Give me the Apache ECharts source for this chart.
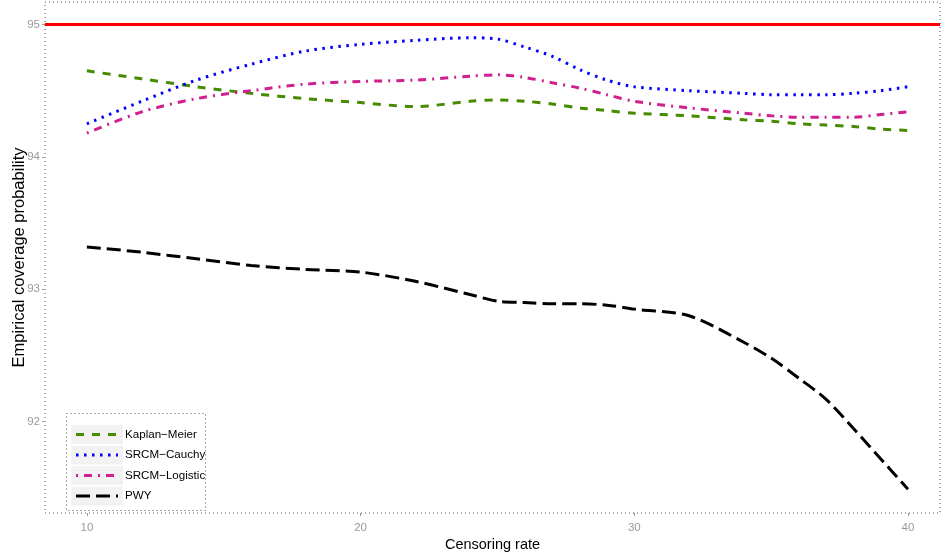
<!DOCTYPE html>
<html>
<head>
<meta charset="utf-8">
<script src="https://cdn.jsdelivr.net/npm/echarts@6/dist/echarts.min.js"></script>
<style>
  html, body { margin: 0; padding: 0; background: #fff; }
  #chart { width: 942px; height: 558px; }
</style>
</head>
<body>
<div id="chart"></div>
<script>
// censoring rate (%)
const rates = [10, 12, 14, 16, 18, 20, 22, 24, 25, 26, 27, 28, 29, 30, 32, 34, 35, 36, 37, 38, 39, 40];
const kaplanMeier = [94.65, 94.59, 94.53, 94.48, 94.44, 94.41, 94.38, 94.42, 94.43, 94.42, 94.40, 94.37, 94.35, 94.33, 94.31, 94.28, 94.27, 94.25, 94.24, 94.23, 94.21, 94.20];
const srcmCauchy = [94.25, 94.42, 94.58, 94.70, 94.80, 94.85, 94.88, 94.90, 94.89, 94.83, 94.76, 94.66, 94.58, 94.53, 94.50, 94.48, 94.47, 94.47, 94.47, 94.48, 94.50, 94.53];
const srcmLogistic = [94.18, 94.34, 94.44, 94.50, 94.55, 94.57, 94.58, 94.61, 94.62, 94.60, 94.56, 94.52, 94.47, 94.42, 94.37, 94.33, 94.31, 94.30, 94.30, 94.30, 94.32, 94.34];
const pwy = [93.32, 93.28, 93.23, 93.18, 93.15, 93.13, 93.06, 92.96, 92.91, 92.90, 92.89, 92.89, 92.88, 92.85, 92.80, 92.60, 92.48, 92.33, 92.17, 91.95, 91.72, 91.49];
const nominal = 95;
const xTicks = [10, 20, 30, 40];
const yTicks = [92, 93, 94, 95];

const M = '\u2212';
const names = ['Kaplan' + M + 'Meier', 'SRCM' + M + 'Cauchy', 'SRCM' + M + 'Logistic', 'PWY'];
const colors = ['#458B00', '#0000FF', '#D02090', '#000000'];
const dashes = [[8, 8], [2.5, 5.5], [2, 6, 8, 6], [14, 6]];

function pairs(ys) {
    return rates.map(function (r, i) { return [r, ys[i]]; });
}

const chart = echarts.init(document.getElementById('chart'));
const font = 'Liberation Sans, Arial, sans-serif';

// legend drawn by hand, ggplot style: dotted box, grey key backgrounds
let legendParts = [{
    type: 'rect', z: 10,
    shape: { x: 66.5, y: 413.5, width: 139, height: 97 },
    style: { fill: '#fff', stroke: '#555', lineWidth: 1, lineDash: [1, 3] }
}];
names.forEach(function (nm, i) {
    let yc = 434.5 + i * 20.5;
    legendParts.push({
        type: 'rect', z: 11,
        shape: { x: 71, y: yc - 9.5, width: 52, height: 19 },
        style: { fill: '#f2f2f2' }
    });
    legendParts.push({
        type: 'line', z: 12,
        shape: { x1: 76, y1: yc, x2: 118, y2: yc },
        style: { stroke: colors[i], lineWidth: 3, lineDash: dashes[i] }
    });
    legendParts.push({
        type: 'text', z: 12, x: 125, y: yc,
        style: { text: nm, fill: '#000', font: '11.6px ' + font, verticalAlign: 'middle' }
    });
});

let option = {
    animation: false,
    backgroundColor: '#fff',
    grid: {
        left: 45, right: 2, top: 2, bottom: 45,
        outerBoundsMode: 'none',
        containLabel: false,
        show: true,
        borderColor: '#555',
        borderWidth: 1,
        borderType: [1, 3]
    },
    graphic: legendParts,
    xAxis: {
        type: 'value',
        min: 8.47, max: 41.17,
        name: 'Censoring rate',
        nameLocation: 'middle',
        nameGap: 24,
        nameMoveOverlap: false,
        nameTextStyle: { fontFamily: font, fontSize: 14.5, color: '#000' },
        splitLine: { show: false },
        axisLine: { show: false },
        axisTick: { show: true, length: 3, lineStyle: { color: '#999' }, customValues: xTicks },
        axisLabel: { fontFamily: font, fontSize: 11.5, color: '#999', margin: 9, customValues: xTicks }
    },
    yAxis: {
        type: 'value',
        min: 91.31, max: 95.17,
        name: 'Empirical coverage probability',
        nameLocation: 'middle',
        nameGap: 17,
        nameMoveOverlap: false,
        nameTextStyle: { fontFamily: font, fontSize: 16.5, color: '#000' },
        splitLine: { show: false },
        axisLine: { show: false },
        axisTick: { show: true, length: 3, lineStyle: { color: '#999' }, customValues: yTicks },
        axisLabel: { fontFamily: font, fontSize: 11.5, color: '#999', margin: 5, customValues: yTicks }
    },
    series: [
        {
            name: names[0], type: 'line', smooth: 0.3, symbol: 'none',
            data: pairs(kaplanMeier),
            lineStyle: { color: colors[0], width: 3, type: dashes[0] },
            markLine: {
                silent: true, symbol: 'none', label: { show: false },
                lineStyle: { color: '#FF0000', width: 3, type: 'solid' },
                data: [{ yAxis: nominal }]
            }
        },
        {
            name: names[1], type: 'line', smooth: 0.3, symbol: 'none',
            data: pairs(srcmCauchy),
            lineStyle: { color: colors[1], width: 3, type: dashes[1] }
        },
        {
            name: names[2], type: 'line', smooth: 0.3, symbol: 'none',
            data: pairs(srcmLogistic),
            lineStyle: { color: colors[2], width: 3, type: dashes[2] }
        },
        {
            name: names[3], type: 'line', smooth: 0.3, symbol: 'none',
            data: pairs(pwy),
            lineStyle: { color: colors[3], width: 3, type: dashes[3] }
        }
    ]
};
chart.setOption(option);
</script>
</body>
</html>
